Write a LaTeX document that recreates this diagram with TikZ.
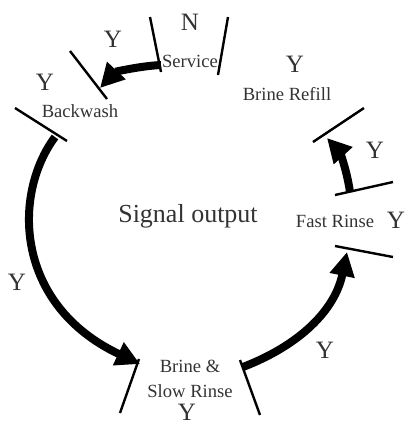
\documentclass[tikz,border=0pt]{standalone}
\usepackage{fontspec}
\setmainfont{Liberation Serif}
\usetikzlibrary{arrows.meta}

\begin{document}
\begin{tikzpicture}[x=0.5pt, y=-0.5pt,
        tick/.style={line width=1.2pt},
        flow/.style={line width=4pt, -{Triangle[length=12pt, width=12pt]}},
        stage/.style={anchor=base, inner sep=0pt, align=center, text=black!80, font=\fontsize{9.3}{12.5}\selectfont},
        flag/.style={anchor=base, inner sep=0pt, text=black!80, font=\fontsize{12.5}{15}\selectfont}
    ]
    \useasboundingbox (0,0) rectangle (404,425);

    % Centre
    \node[anchor=base, inner sep=0pt, text=black!80, font=\fontsize{13}{15}\selectfont] (signal) at (188,222) {Signal output};

    % Service
    \draw[tick] (150,17) -- (161,72);
    \draw[tick] (228,17) -- (218,75);
    \node[stage] (service) at (190,67) {Service};
    \node[flag] (nService) at (190,30) {N};
    \coordinate (serviceOut) at (161,65);

    % Backwash
    \draw[tick] (70,51) -- (107,99);
    \draw[tick] (15,108) -- (67,141);
    \node[stage] (backwash) at (80,117) {Backwash};
    \node[flag] (yBackwashIn) at (113,47) {Y};
    \node[flag] (yBackwash) at (45,90) {Y};
    \coordinate (backwashIn) at (100,88);
    \coordinate (backwashOut) at (55,137);

    % Brine & Slow Rinse
    \draw[tick] (139,359) -- (120,413);
    \draw[tick] (240,360) -- (260,415);
    \node[stage] (brine) at (190,372) {Brine \&};
    \node[stage] (slow) at (190,397) {Slow Rinse};
    \node[flag] (yBrine) at (187,420) {Y};
    \node[flag] (yBrineIn) at (17,290) {Y};
    \coordinate (brineIn) at (140,364);
    \coordinate (brineOut) at (243,367);

    % Fast Rinse
    \draw[tick] (335,246) -- (393,257);
    \draw[tick] (335,195) -- (393,182);
    \node[stage] (fast) at (335,227) {Fast Rinse};
    \node[flag] (yFast) at (396,228) {Y};
    \node[flag] (yFastIn) at (325,358) {Y};
    \coordinate (fastIn) at (347,252);
    \coordinate (fastOut) at (350,192);

    % Brine Refill
    \draw[tick] (313,142) -- (364,108);
    \node[stage] (refill) at (287,100) {Brine Refill};
    \node[flag] (yRefill) at (295,72) {Y};
    \node[flag] (yRefillIn) at (375,158) {Y};
    \coordinate (refillIn) at (327,138);

    % Flow between stages
    \draw[flow] (serviceOut) .. controls (140,66) and (115,72) .. (backwashIn);
    \draw[flow] (backwashOut) .. controls (12,195) and (15,305) .. (brineIn);
    \draw[flow] (brineOut) .. controls (300,345) and (335,310) .. (fastIn);
    \draw[flow] (fastOut) .. controls (346,165) and (338,150) .. (refillIn);

\end{tikzpicture}
\end{document}
